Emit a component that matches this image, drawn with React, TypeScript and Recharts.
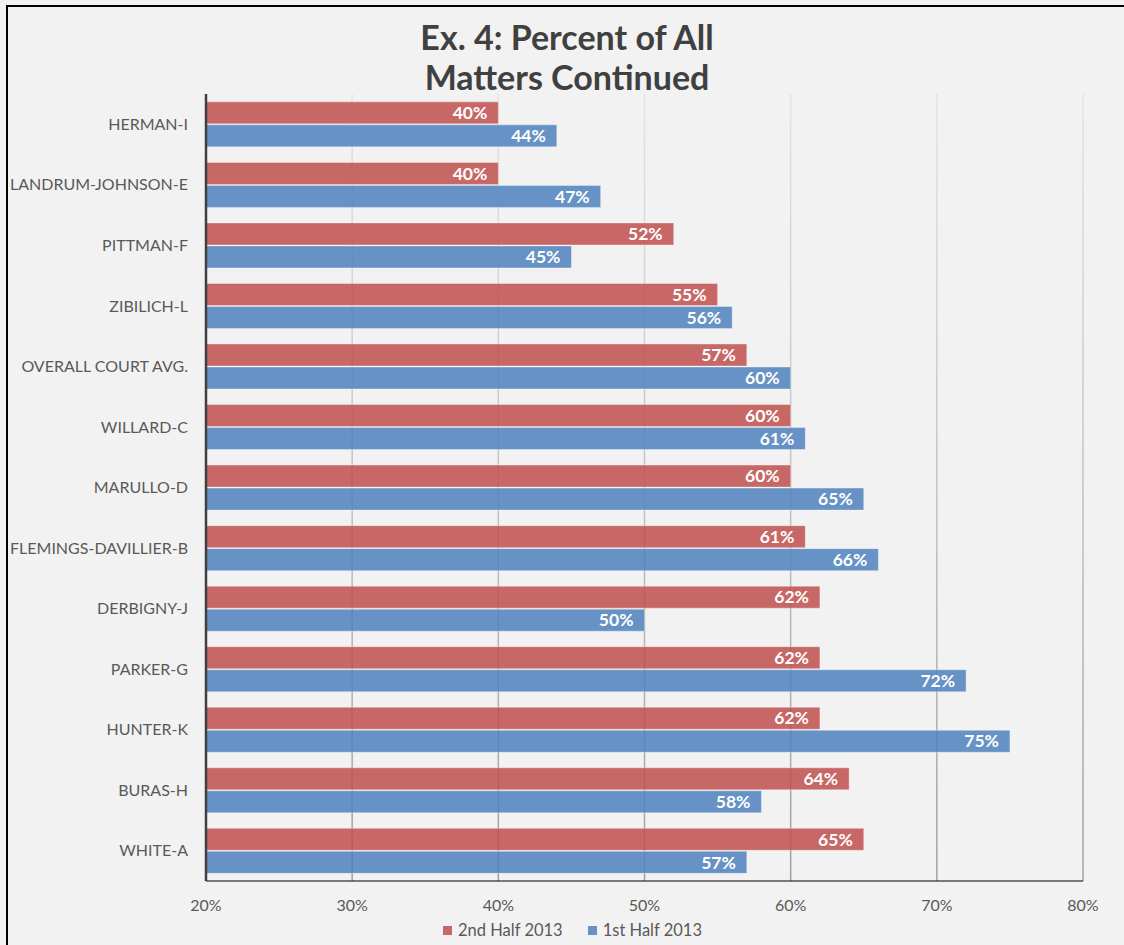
import React from "react";
import {
  BarChart,
  Bar,
  XAxis,
  YAxis,
  CartesianGrid,
  Legend,
  LabelList,
} from "recharts";

// Judges / court rows, top to bottom
const judges = [
  "HERMAN-I",
  "LANDRUM-JOHNSON-E",
  "PITTMAN-F",
  "ZIBILICH-L",
  "OVERALL COURT AVG.",
  "WILLARD-C",
  "MARULLO-D",
  "FLEMINGS-DAVILLIER-B",
  "DERBIGNY-J",
  "PARKER-G",
  "HUNTER-K",
  "BURAS-H",
  "WHITE-A",
];

// Percent of all matters continued
const secondHalf2013 = [40, 40, 52, 55, 57, 60, 60, 61, 62, 62, 62, 64, 65];
const firstHalf2013 = [44, 47, 45, 56, 60, 61, 65, 66, 50, 72, 75, 58, 57];

const xTicks = [20, 30, 40, 50, 60, 70, 80];

const seriesNames = ["2nd Half 2013", "1st Half 2013"];

const data = judges.map((name, i) => ({
  name,
  second: secondHalf2013[i],
  first: firstHalf2013[i],
}));

const FONT = "Lato, 'Open Sans', sans-serif";
const RED = "#C0504D";
const BLUE = "#4F81BD";

const W = 1124;
const H = 945;
const MARGIN = { top: 94, right: 41, bottom: 0, left: 0 };

const LegendContent = () => {
  const colors = [RED, BLUE];
  return (
    <div
      style={{
        display: "flex",
        justifyContent: "center",
        alignItems: "center",
        height: 30,
        fontFamily: FONT,
        fontSize: 16.5,
        color: "#595959",
        paddingLeft: 62,
      }}
    >
      {seriesNames.map((n, i) => (
        <div
          key={n}
          style={{
            display: "flex",
            alignItems: "center",
            marginRight: i === 0 ? 25 : 0,
          }}
        >
          <span
            style={{
              display: "inline-block",
              width: 9,
              height: 9,
              background: colors[i],
              opacity: 0.85,
              marginRight: 6,
            }}
          />
          <span>{n}</span>
        </div>
      ))}
    </div>
  );
};

const labelStyle = {
  fill: "#ffffff",
  fontWeight: 700,
  fontSize: 17.5,
  fontFamily: FONT,
};

export default function App() {
  const plotTop = MARGIN.top;
  const plotBottom = 881;
  return (
    <div
      style={{
        position: "absolute",
        left: 0,
        top: 0,
        width: W,
        height: H,
        background: "#F2F2F2",
        overflow: "hidden",
      }}
    >
      <div
        style={{
          position: "absolute",
          left: 6,
          top: 5,
          width: W,
          height: H,
          borderLeft: "2px solid #000",
          borderTop: "2px solid #000",
        }}
      />
      <div
        style={{
          position: "absolute",
          left: 0,
          width: W,
          top: 17,
          textAlign: "center",
          fontFamily: FONT,
          fontWeight: 700,
          fontSize: 34,
          lineHeight: "40px",
          color: "#404040",
          paddingLeft: 10,
          boxSizing: "border-box",
        }}
      >
        Ex. 4: Percent of All
        <br />
        Matters Continued
      </div>
      <div style={{ position: "absolute", left: 0, top: 0 }}>
        <BarChart
          width={W}
          height={H}
          data={data}
          layout="vertical"
          margin={MARGIN}
          barCategoryGap="13%"
          barGap={1}
        >
          <defs>
            <linearGradient
              id="gridFade"
              gradientUnits="userSpaceOnUse"
              x1="0"
              y1={plotTop}
              x2="0"
              y2={plotBottom}
            >
              <stop offset="0%" stopColor="#E4E4E4" />
              <stop offset="100%" stopColor="#A0A0A0" />
            </linearGradient>
          </defs>
          <CartesianGrid
            horizontal={false}
            vertical
            stroke="url(#gridFade)"
            strokeWidth={1.5}
          />
          <XAxis
            type="number"
            domain={[20, 80]}
            ticks={xTicks}
            allowDataOverflow
            tickFormatter={(v: number) => `${v}%`}
            height={34}
            tickSize={0}
            tickMargin={19}
            axisLine={{ stroke: "#000", strokeWidth: 1 }}
            tick={{ fill: "#595959", fontSize: 16, fontFamily: FONT }}
          />
          <YAxis
            type="category"
            dataKey="name"
            width={206}
            tickSize={0}
            tickMargin={18}
            axisLine={{ stroke: "#404040", strokeWidth: 2.5 }}
            tick={{ fill: "#595959", fontSize: 16, fontFamily: FONT }}
            interval={0}
          />
          <Legend
            verticalAlign="bottom"
            align="center"
            height={30}
            content={() => <LegendContent />}
          />
          <Bar
            dataKey="second"
            name={seriesNames[0]}
            fill={RED}
            fillOpacity={0.85}
            stroke="#ffffff"
            strokeOpacity={0.35}
            strokeWidth={1}
            isAnimationActive={false}
          >
            <LabelList
              dataKey="second"
              position="insideRight"
              offset={11}
              formatter={(v: number) => `${v}%`}
              style={labelStyle}
            />
          </Bar>
          <Bar
            dataKey="first"
            name={seriesNames[1]}
            fill={BLUE}
            fillOpacity={0.85}
            stroke="#ffffff"
            strokeOpacity={0.35}
            strokeWidth={1}
            isAnimationActive={false}
          >
            <LabelList
              dataKey="first"
              position="insideRight"
              offset={11}
              formatter={(v: number) => `${v}%`}
              style={labelStyle}
            />
          </Bar>
        </BarChart>
      </div>
    </div>
  );
}
